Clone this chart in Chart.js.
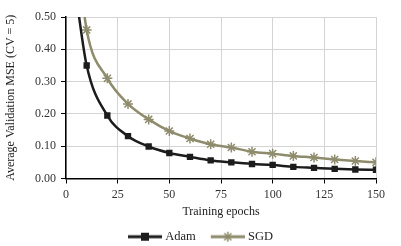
<!DOCTYPE html>
<html>
<head>
<meta charset="utf-8">
<script src="https://cdn.jsdelivr.net/npm/chart.js@4/dist/chart.umd.min.js"></script>
<style>
  html, body { margin: 0; padding: 0; background: #fff; }
  #wrap { width: 401px; height: 246px; }
</style>
</head>
<body>
<div id="wrap"><canvas id="mseChart" width="401" height="246"></canvas></div>
<script>
// epochs (5 is only there to carry the curve above the top of the plot)
const epochs = [5, 10, 20, 30, 40, 50, 60, 70, 80, 90, 100, 110, 120, 130, 140, 150];
const adamMse = [0.56, 0.35, 0.195, 0.131, 0.099, 0.079, 0.067, 0.056, 0.050, 0.045, 0.042, 0.036, 0.033, 0.030, 0.028, 0.027];
const sgdMse = [0.72, 0.46, 0.31, 0.231, 0.183, 0.147, 0.124, 0.106, 0.096, 0.083, 0.077, 0.070, 0.065, 0.059, 0.054, 0.050];

const ADAM = '#1c1c1c';
const SGD = '#8e8c6c';
const FONT = '"Liberation Serif", "Times New Roman", serif';

function toPoints(vals) {
    return epochs.map((e, i) => ({ x: e, y: vals[i] }));
}

// legend icon: blank gap on the left, then a line with the marker in the middle
function legendIcon(color, style) {
    const c = document.createElement('canvas');
    c.width = 48; c.height = 12;
    const g = c.getContext('2d');
    const x0 = 14, x1 = 48, mid = (x0 + x1) / 2;
    g.strokeStyle = color;
    g.lineWidth = 3;
    g.beginPath(); g.moveTo(x0, 6); g.lineTo(x1, 6); g.stroke();
    g.fillStyle = color;
    if (style === 'rect') {
        g.fillRect(mid - 4, 2, 8, 8);
    } else {
        g.lineWidth = 1.5;
        g.beginPath();
        for (let a = 0; a < 4; a++) {
            const ang = a * Math.PI / 4;
            g.moveTo(mid - 5 * Math.cos(ang), 6 - 5 * Math.sin(ang));
            g.lineTo(mid + 5 * Math.cos(ang), 6 + 5 * Math.sin(ang));
        }
        g.stroke();
    }
    return c;
}

// nudge the legend a bit lower/right after layout
const legendNudge = {
    id: 'legendNudge',
    afterLayout(chart) {
        const lg = chart.legend;
        if (!lg) return;
        lg.top += 7; lg.bottom += 7;
        lg.left += 7; lg.right += 7;
    }
};

const hideFirst = ctx => (ctx.raw && ctx.raw.x % 10 !== 0) ? 0 : undefined;

new Chart(document.getElementById('mseChart'), {
    type: 'line',
    data: {
        datasets: [
            {
                label: 'Adam',
                data: toPoints(adamMse),
                borderColor: ADAM,
                backgroundColor: ADAM,
                borderWidth: 2.5,
                pointStyle: 'rect',
                pointRadius: ctx => hideFirst(ctx) ?? 4.5,
                pointBorderWidth: 0,
                cubicInterpolationMode: 'monotone',
                legendIcon: legendIcon(ADAM, 'rect')
            },
            {
                label: 'SGD',
                data: toPoints(sgdMse),
                borderColor: SGD,
                backgroundColor: SGD,
                borderWidth: 2.5,
                pointStyle: 'star',
                pointRadius: ctx => hideFirst(ctx) ?? 5,
                pointBorderWidth: 1.5,
                cubicInterpolationMode: 'monotone',
                legendIcon: legendIcon(SGD, 'star')
            }
        ]
    },
    options: {
        responsive: false,
        animation: false,
        layout: { padding: { left: 0, right: 25, top: 17, bottom: 0 } },
        plugins: {
            tooltip: { enabled: false },
            legend: {
                position: 'bottom',
                labels: {
                    usePointStyle: true,
                    pointStyleWidth: 42,
                    padding: 4,
                    color: '#222',
                    font: { family: FONT, size: 12.5 },
                    generateLabels: chart => chart.data.datasets.map((ds, i) => ({
                        text: ds.label,
                        pointStyle: ds.legendIcon,
                        fillStyle: ds.borderColor,
                        strokeStyle: ds.borderColor,
                        lineWidth: 0,
                        fontColor: '#222',
                        datasetIndex: i
                    }))
                }
            }
        },
        scales: {
            x: {
                type: 'linear',
                min: 0,
                max: 150,
                ticks: { stepSize: 25, color: '#333', font: { family: FONT, size: 12 }, padding: 4, maxRotation: 0 },
                grid: { color: '#d4d4d4', tickColor: '#000', tickLength: 5, drawTicks: true },
                border: { color: '#000', width: 1.5 },
                title: { display: true, text: 'Training epochs', color: '#222', font: { family: FONT, size: 12 }, padding: { top: 0, bottom: 0 } },
                afterFit: s => { s.height = 41; }
            },
            y: {
                min: 0,
                max: 0.5,
                ticks: { stepSize: 0.1, color: '#333', font: { family: FONT, size: 12 }, padding: 5, callback: v => v.toFixed(2) },
                grid: { color: '#d4d4d4', tickColor: '#000', tickLength: 5 },
                border: { color: '#000', width: 1.5 },
                title: { display: true, text: 'Average Validation MSE (CV = 5)', color: '#222', font: { family: FONT, size: 12 }, padding: { top: 4, bottom: 0 } },
                afterFit: s => { s.width = 66; }
            }
        }
    },
    plugins: [legendNudge]
});
</script>
</body>
</html>
